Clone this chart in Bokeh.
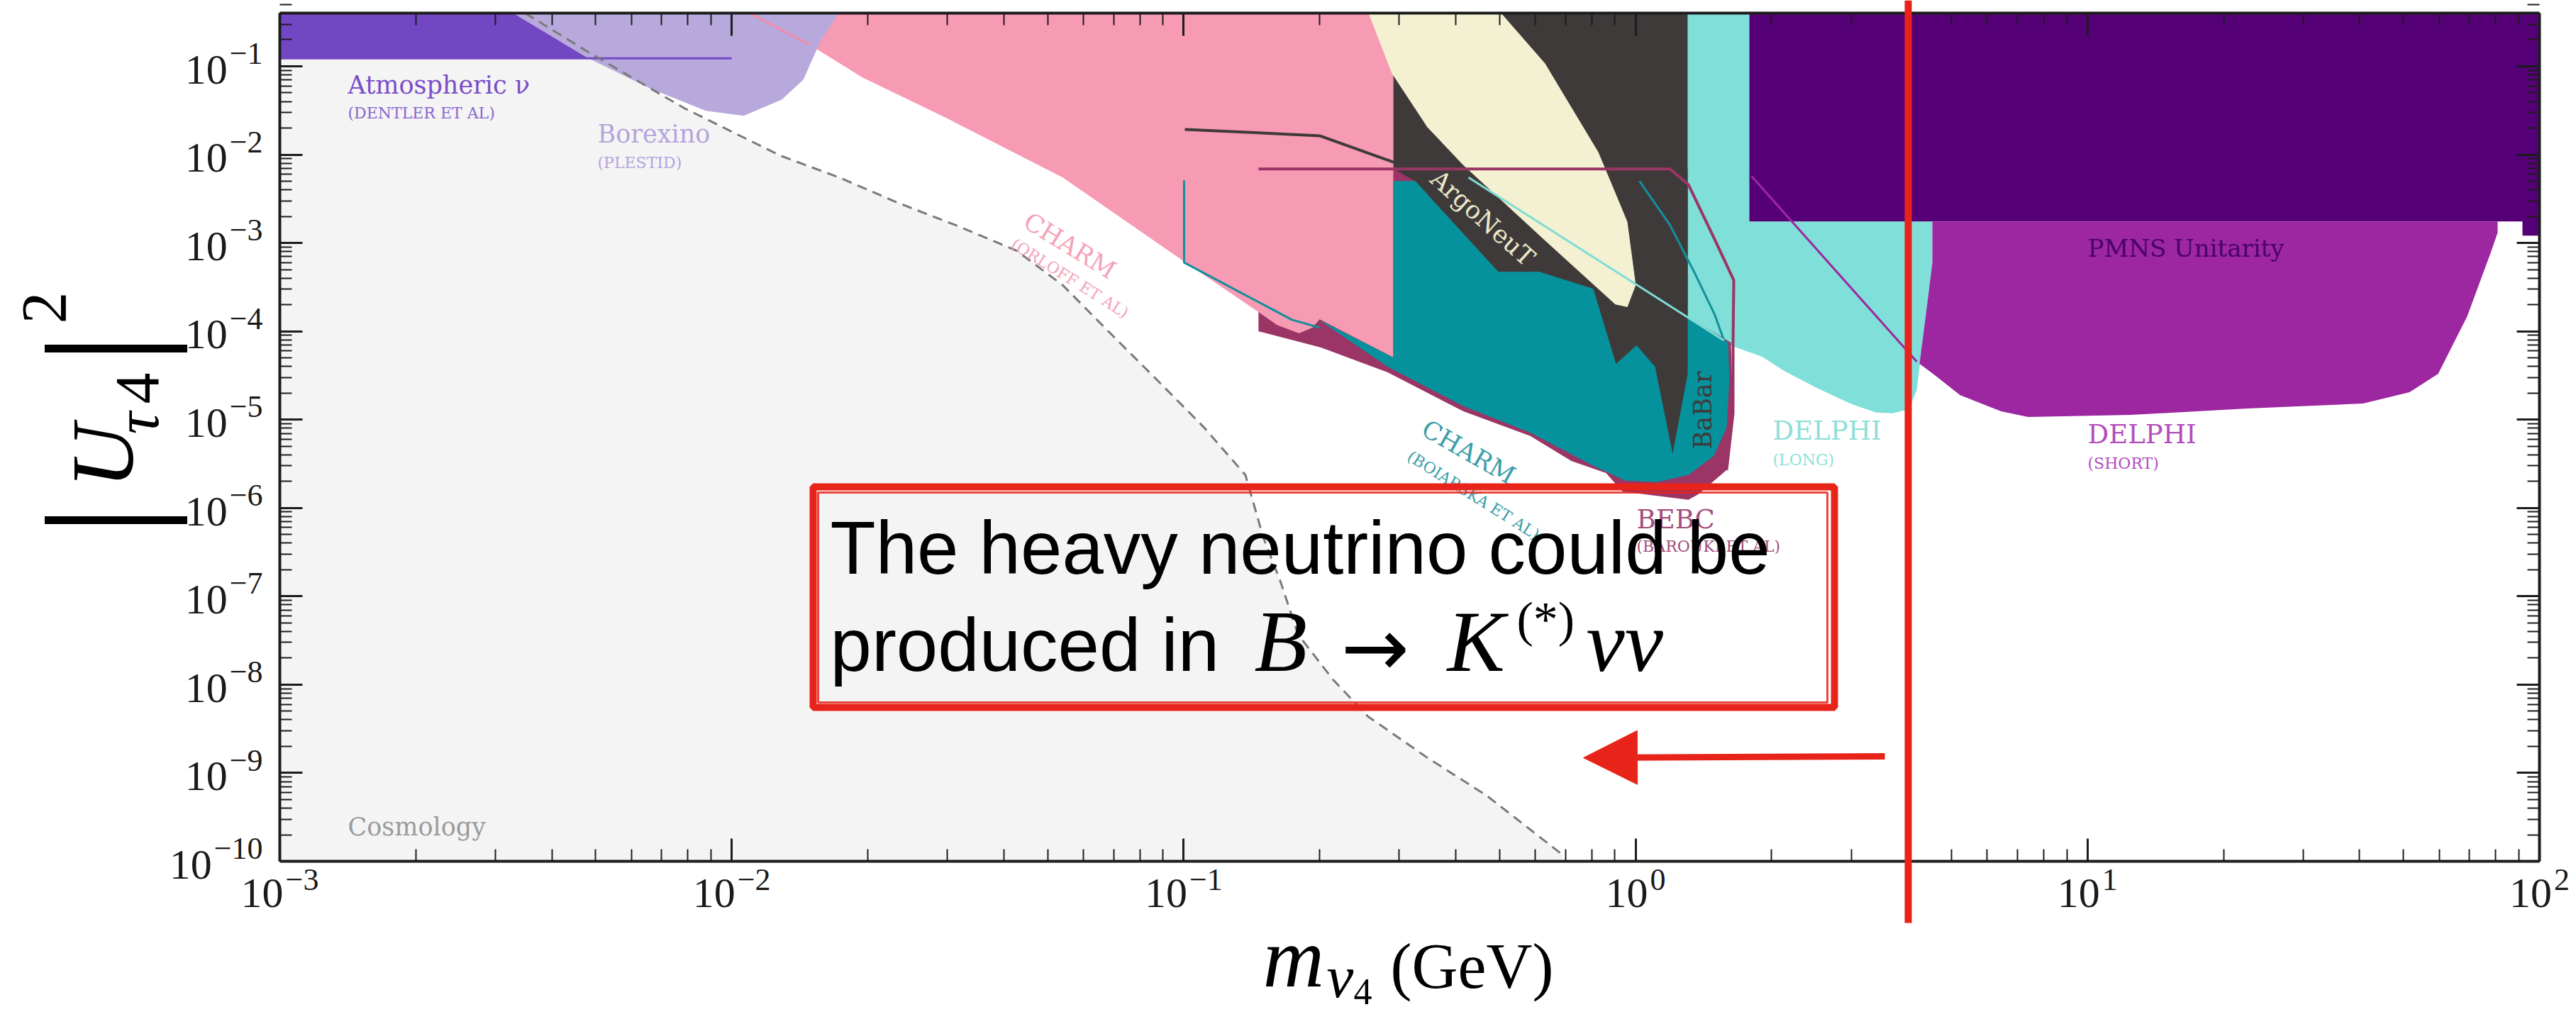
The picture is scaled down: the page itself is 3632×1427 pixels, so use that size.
import math
from bokeh.plotting import figure
from bokeh.models import (FixedTicker, LogAxis, Label, Arrow, NormalHead,
                          CustomJSTickFormatter, Range1d, BoxAnnotation)
from bokeh.embed import file_html
from bokeh.resources import INLINE

# ---------------- data: mass (GeV), |U_tau4|^2 ----------------
X_TICKS = [1e-3, 1e-2, 1e-1, 1.0, 10.0, 100.0]
X_EXP = ["\u22123", "\u22122", "\u22121", "0", "1", "2"]
Y_TICKS = [1e-10, 1e-9, 1e-8, 1e-7, 1e-6, 1e-5, 1e-4, 1e-3, 1e-2, 1e-1]
Y_EXP = ["\u221210", "\u22129", "\u22128", "\u22127", "\u22126", "\u22125", "\u22124", "\u22123", "\u22122", "\u22121"]

# Cosmology bound (dashed line / grey region edge)
COSMO_M = [3.49e-3, 4.76e-3, 7.84e-3, 1.28e-2, 1.73e-2, 2.34e-2, 3.15e-2, 4.26e-2, 5.40e-2,
           6.86e-2, 8.74e-2, 0.111, 0.137, 0.150, 0.164, 0.179, 0.214, 0.256, 0.346, 0.467, 0.690]
COSMO_U2 = [0.40, 0.150, 3.37e-2, 9.76e-3, 5.51e-3, 2.83e-3, 1.57e-3, 8.22e-4, 3.33e-4,
            9.66e-5, 2.80e-5, 8.13e-6, 2.36e-6, 4.65e-7, 1.44e-7, 3.71e-8, 1.14e-8, 4.35e-9,
            1.49e-9, 5.60e-10, 1.18e-10]

# Atmospheric nu (Dentler et al)
ATM_M = [1e-3, 1e-2]
ATM_U2 = 0.123

# Borexino (Plestid)
BOREX_M = [3.28e-3, 4.76e-3, 6.64e-3, 8.77e-3, 1.063e-2, 1.29e-2, 1.44e-2, 1.57e-2, 1.725e-2]
BOREX_U2 = [0.40, 0.127, 5.54e-2, 3.13e-2, 2.75e-2, 4.2e-2, 7.05e-2, 0.191, 0.40]

# CHARM (Orloff et al)
CHARM_O_M = [0.01094, 0.01487, 0.0195, 0.02965, 0.054, 0.1013, 0.1464, 0.1609, 0.180,
             0.1928, 0.1999, 0.291, 0.291]
CHARM_O_U2 = [0.40, 0.1756, 0.0744, 0.02646, 5.51e-3, 5.95e-4, 1.65e-4, 1.18e-4, 9.48e-5,
              1.10e-4, 1.37e-4, 5.06e-5, 0.40]
CHARM_O_EDGE_M = [0.01094, 0.01487]
CHARM_O_EDGE_U2 = [0.40, 0.1756]

# BEBC (Barouki et al)
BEBC_M = [0.1464, 1.304, 1.304, 1.625, 1.643, 1.590, 1.376, 1.309, 0.935, 0.860, 0.721,
          0.5846, 0.416, 0.2827, 0.2013, 0.1464]
BEBC_U2 = [6.88e-3, 6.88e-3, 1.45e-4, 7.46e-5, 1.18e-5, 2.69e-6, 1.43e-6, 1.24e-6, 1.54e-6,
           2.49e-6, 3.41e-6, 6.52e-6, 1.24e-5, 3.43e-5, 6.55e-5, 1.00e-4]
BEBC_LINE_M = [0.1464, 1.191, 1.309, 1.495, 1.649, 1.643, 1.643, 1.590]
BEBC_LINE_U2 = [6.88e-3, 6.88e-3, 4.58e-3, 1.105e-3, 3.79e-4, 7.46e-5, 1.18e-5, 2.69e-6]

# CHARM (Boiarska et al)
CHARM_B_M = [0.1984, 0.291, 0.291, 1.304, 1.304, 1.602, 1.613, 1.590, 1.490, 1.309, 1.116,
             0.949, 0.806, 0.5846, 0.416, 0.2827]
CHARM_B_U2 = [1.37e-4, 5.06e-5, 5.02e-3, 5.02e-3, 1.45e-4, 7.46e-5, 2.96e-5, 8.13e-6, 3.88e-6,
              2.36e-6, 1.96e-6, 2.04e-6, 3.00e-6, 7.14e-6, 1.42e-5, 3.98e-5]

# ArgoNeuT (dark region)
ARGO_M = [0.291, 1.304, 1.304, 1.208, 1.104, 1.005, 0.905, 0.806, 0.6126, 0.4968, 0.3255, 0.291]
ARGO_U2 = [0.40, 0.40, 3.31e-5, 4.11e-6, 3.98e-5, 6.93e-5, 4.28e-5, 3.03e-4, 4.72e-4, 4.72e-4,
           5.02e-3, 6.88e-3]

# cream region
CREAM_M = [0.2564, 0.2889, 0.3462, 0.4147, 0.6305, 0.9018, 0.959, 1.001, 0.959, 0.827, 0.6305, 0.504]
CREAM_U2 = [0.40, 0.0831, 0.02043, 7.68e-3, 1.065e-3, 2.02e-4, 1.88e-4, 3.33e-4, 1.74e-3, 0.0107,
            0.1077, 0.40]

# DELPHI (long)
DL_M = [1.304, 1.785, 1.785, 4.536, 4.536, 4.375, 4.249, 4.19, 4.026, 3.705, 3.409, 3.004, 2.516,
        2.131, 1.905, 1.637, 1.304]
DL_U2 = [0.40, 0.40, 1.753e-3, 1.753e-3, 6.01e-4, 1.37e-4, 3.98e-5, 2.16e-5, 1.31e-5, 1.18e-5,
         1.20e-5, 1.50e-5, 2.29e-5, 3.56e-5, 5.15e-5, 6.80e-5, 1.45e-4]

# PMNS unitarity
PMNS_M = [1.785, 100.0, 100.0, 91.7, 91.7, 1.785]
PMNS_U2 = [0.40, 0.40, 1.21e-3, 1.21e-3, 1.753e-3, 1.753e-3]

# DELPHI (short)
DS_M = [4.536, 80.8, 80.8, 77.9, 69.2, 59.7, 51.6, 40.7, 22.6, 12.5, 7.39, 6.44, 5.22, 4.55,
        4.249, 4.375, 4.536]
DS_U2 = [1.753e-3, 1.753e-3, 1.305e-3, 7.64e-4, 1.48e-4, 3.31e-5, 2.05e-5, 1.52e-5, 1.34e-5,
         1.13e-5, 1.07e-5, 1.24e-5, 1.90e-5, 3.31e-5, 4.28e-5, 1.37e-4, 6.01e-4]

# projection / outline lines
DARK_LINE_M = [0.1006, 0.1999, 0.2963]
DARK_LINE_U2 = [0.01933, 0.01637, 7.97e-3]
TEAL_LINE1_M = [0.1002, 0.1002, 0.1736, 0.1999]
TEAL_LINE1_U2 = [5.12e-3, 6.01e-4, 1.35e-4, 1.10e-4]
TEAL_LINE2_M = [1.020, 1.191, 1.347, 1.495, 1.579]
TEAL_LINE2_U2 = [5.02e-3, 1.60e-3, 4.72e-4, 1.56e-4, 7.19e-5]
CYAN_LINE_M = [0.4269, 1.568]
CYAN_LINE_U2 = [5.51e-3, 7.88e-5]
DS_LINE_M = [1.805, 4.19]
DS_LINE_U2 = [5.71e-3, 4.53e-5]

# ---------------- layout ----------------
W, H = 3632, 1427
FL, FR, FT, FB = 394, 3580, 18, 1214          # pixel box of the plotted decades
XMIN, XMAX = 1e-3, 1e2
YMIN, YMAX = 1e-10, 0.4
LX0, LX1 = math.log10(XMIN), math.log10(XMAX)
LY0, LY1 = math.log10(YMIN), math.log10(YMAX)


def X(px):
    return 10 ** (LX0 + (px - FL) / (FR - FL) * (LX1 - LX0))


def Y(py):
    return 10 ** (LY1 - (py - FT) / (FB - FT) * (LY1 - LY0))


def PX(x):
    return FL + (math.log10(x) - LX0) / (LX1 - LX0) * (FR - FL)


def PY(y):
    return FT + (LY1 - math.log10(y)) / (LY1 - LY0) * (FB - FT)


# the frame covers the whole canvas; axes are pinned to the data box
p = figure(width=W, height=H, x_axis_type="log", y_axis_type="log",
           x_range=Range1d(X(0), X(W)), y_range=Range1d(Y(H), Y(0)),
           output_backend="svg", toolbar_location=None,
           min_border_left=0, min_border_right=0, min_border_top=0, min_border_bottom=0)
p.xgrid.visible = False
p.ygrid.visible = False
p.outline_line_color = None
p.background_fill_color = "white"
p.border_fill_color = "white"

XT_MIN = [m * 10.0 ** k for k in range(-3, 2) for m in range(2, 10)]
YT_MIN = [m * 10.0 ** k for k in range(-10, 0) for m in range(2, 10)] + [0.2, 0.3]
xt = FixedTicker(ticks=X_TICKS, minor_ticks=XT_MIN)
yt = FixedTicker(ticks=Y_TICKS, minor_ticks=YT_MIN)
AX = "#1c1c1c"


def style_axis(ax, ticker, bounds, loc):
    ax.ticker = ticker
    ax.formatter = CustomJSTickFormatter(code="return '';")
    ax.bounds = bounds
    ax.fixed_location = loc
    ax.major_label_standoff = 0
    ax.major_tick_in = 32
    ax.major_tick_out = 0
    ax.minor_tick_in = 17
    ax.minor_tick_out = 0
    ax.axis_line_width = 4
    ax.axis_line_color = AX
    ax.major_tick_line_width = 3
    ax.minor_tick_line_width = 2
    ax.major_tick_line_color = AX
    ax.minor_tick_line_color = AX


style_axis(p.xaxis[0], xt, (XMIN, XMAX), YMIN)
style_axis(p.yaxis[0], yt, (YMIN, YMAX), XMIN)
top_ax = LogAxis()
style_axis(top_ax, xt, (XMIN, XMAX), YMAX)
p.add_layout(top_ax, "above")
right_ax = LogAxis()
style_axis(right_ax, yt, (YMIN, YMAX), XMAX)
p.add_layout(right_ax, "right")

# ---------------- regions ----------------
def poly(xs, ys, color):
    p.patch(xs, ys, fill_color=color, line_color=None)


poly([XMIN] + COSMO_M + [COSMO_M[-1], XMIN], [YMAX] + COSMO_U2 + [YMIN, YMIN], "#f4f4f4")
poly([ATM_M[0], ATM_M[1], ATM_M[1], ATM_M[0]], [ATM_U2, ATM_U2, YMAX, YMAX], "#7347c3")
poly(DL_M, DL_U2, "#80dfd8")
poly(BEBC_M, BEBC_U2, "#9a3565")
poly(CHARM_O_M, CHARM_O_U2, "#f79ab3")
poly(BOREX_M, BOREX_U2, "#b8a9dc")
p.line(CHARM_O_EDGE_M, CHARM_O_EDGE_U2, line_color="#f58aa6", line_width=3)
p.line(ATM_M, [ATM_U2, ATM_U2], line_color="#7347c3", line_width=3)
poly(CHARM_B_M, CHARM_B_U2, "#05929c")
poly(ARGO_M, ARGO_U2, "#3f3a3a")
poly(CREAM_M, CREAM_U2, "#f3f1d1")
poly(PMNS_M, PMNS_U2, "#560078")
poly(DS_M, DS_U2, "#9c27a0")

p.line(DARK_LINE_M, DARK_LINE_U2, line_color="#3f3a3a", line_width=4)
p.line(BEBC_LINE_M, BEBC_LINE_U2, line_color="#9a3565", line_width=4)
p.line(TEAL_LINE1_M, TEAL_LINE1_U2, line_color="#12909b", line_width=3)
p.line(TEAL_LINE2_M, TEAL_LINE2_U2, line_color="#12909b", line_width=3)
p.line(CYAN_LINE_M, CYAN_LINE_U2, line_color="#7fdcd6", line_width=3)
p.line(DS_LINE_M, DS_LINE_U2, line_color="#9c27a0", line_width=3)
p.line(COSMO_M, COSMO_U2, line_color="#7a7a7a", line_width=3, line_dash="14 9")

# ---------------- text helpers ----------------
SERIF = "DejaVu Serif"
TSERIF = "Liberation Serif"
SANS = "Liberation Sans"
# distance (in em) from the alphabetic baseline up to the centre of the em box
MID = {"DejaVu Serif": 0.346, "Liberation Serif": 0.3375, "Liberation Sans": 0.3465,
       "DejaVu Sans": 0.346}


def lab(px, py, text, size, color, font=SERIF, style="normal", align="left",
        baseline="alphabetic", angle=0.0):
    # (px, py) is the baseline point; texts are anchored at the middle of the em box
    if baseline == "alphabetic":
        s = MID[font] * size
        px = px - s * math.sin(angle)
        py = py - s * math.cos(angle)
    p.add_layout(Label(x=X(px), y=Y(py), text=text, text_font=font,
                       text_font_size=f"{size}px", text_color=color,
                       text_font_style=style, text_align=align,
                       text_baseline="middle", angle=angle))


# region labels
lab(490, 132, "Atmospheric \u03bd", 35, "#7a4dc9")
lab(490, 167, "(DENTLER ET AL)", 22, "#8a66d0")
lab(842, 201, "Borexino", 35, "#b4a4dc")
lab(842, 237, "(PLESTID)", 22, "#b4a4dc")
lab(490, 1178, "Cosmology", 35, "#9b9b9b")
lab(1508, 346, "CHARM", 35, "#f4a3b9", align="center", baseline="middle", angle=-0.55)
lab(1508, 392, "(ORLOFF ET AL)", 22, "#f4a3b9", align="center", baseline="middle", angle=-0.56)
lab(2090, 307, "ArgoNeuT", 35, "#ece8c9", align="center", baseline="middle", angle=-0.73)
lab(2070, 637, "CHARM", 35, "#3b9ea8", align="center", baseline="middle", angle=-0.52)
lab(2077, 698, "(BOIARSKA ET AL)", 22, "#3b9ea8", align="center", baseline="middle", angle=-0.56)
lab(2400, 578, "BaBar", 35, "#3f3a3a", align="center", baseline="middle", angle=math.pi / 2)
lab(2307, 745, "BEBC", 37, "#a54d7b")
lab(2307, 778, "(BAROUKI ET AL)", 22, "#a54d7b")
lab(2499, 620, "DELPHI", 37, "#8edfd9")
lab(2499, 656, "(LONG)", 22, "#8edfd9")
lab(2943, 361, "PMNS Unitarity", 34, "#4b006e")
lab(2943, 625, "DELPHI", 37, "#b34dbd")
lab(2943, 661, "(SHORT)", 22, "#b34dbd")

# tick labels
TC = "#1a1a1a"
EXP = 44
for v, e in zip(Y_TICKS, Y_EXP):
    ty = PY(v)
    ew = EXP * (0.564 + 0.5 * (len(e) - 1))
    lab(370, ty - 3, e, EXP, TC, font=TSERIF, align="right")
    lab(370 - ew - 3, ty + 25, "10", 60, TC, font=TSERIF, align="right")
for v, e in zip(X_TICKS, X_EXP):
    tx = PX(v)
    nd = len(e.replace("\u2212", ""))
    ew = EXP * ((0.564 if "\u2212" in e else 0.0) + 0.5 * nd)
    start = tx - (63 + ew) / 2
    lab(start, 1279, "10", 60, TC, font=TSERIF)
    lab(start + 63, 1255, e, EXP, TC, font=TSERIF)

# axis titles
lab(1780, 1390, "m", 120, "black", font=TSERIF, style="italic")
lab(1870, 1405, "\u03bd", 85, "black", font=TSERIF, style="italic")
lab(1908, 1416, "4", 52, "black", font=TSERIF)
lab(1960, 1392, "(GeV)", 90, "black", font=TSERIF)

lab(141, 733, "|", 221, "black", font=TSERIF, align="center", baseline="middle", angle=math.pi / 2)
lab(187, 688, "U", 125, "black", font=TSERIF, style="italic", angle=math.pi / 2)
lab(223, 612, "\u03c4", 88, "black", font=TSERIF, style="italic", angle=math.pi / 2)
lab(223, 569, "4", 88, "black", font=TSERIF, angle=math.pi / 2)
lab(141, 491, "|", 221, "black", font=TSERIF, align="center", baseline="middle", angle=math.pi / 2)
lab(93, 456, "2", 90, "black", font=TSERIF, angle=math.pi / 2)

# ---------------- red hand-drawn overlay ----------------
RED = "#e8241a"
p.add_layout(BoxAnnotation(left=X(1146), right=X(2586), top=Y(686), bottom=Y(997),
                           fill_alpha=0.0, line_color=RED, line_alpha=1.0, line_width=10))
p.add_layout(BoxAnnotation(left=X(1153), right=X(2576), top=Y(694), bottom=Y(990),
                           fill_alpha=0.0, line_color=RED, line_width=3, line_alpha=0.85))
p.add_layout(Arrow(start=None, end=None, x_start=X(2690), y_start=Y(0), x_end=X(2690),
                   y_end=Y(1301), line_color=RED, line_width=10))
p.add_layout(Arrow(end=NormalHead(size=76, fill_color=RED, line_color=RED),
                   x_start=X(2657), y_start=Y(1066), x_end=X(2232), y_end=Y(1068),
                   line_color=RED, line_width=9))

lab(1170, 808, "The heavy neutrino could be", 105, "black", font=SANS)
lab(1170, 945, "produced in", 105, "black", font=SANS)
lab(1768, 945, "B", 122, "black", font=TSERIF, style="italic")
lab(1890, 952, "\u2192", 115, "black", font="DejaVu Sans")
lab(2040, 945, "K", 122, "black", font=TSERIF, style="italic")
lab(2138, 897, "(*)", 70, "black", font=TSERIF)
lab(2236, 945, "\u03bd\u03bd", 122, "black", font=TSERIF, style="italic")

open("out.html", "w").write(file_html(p, INLINE))
